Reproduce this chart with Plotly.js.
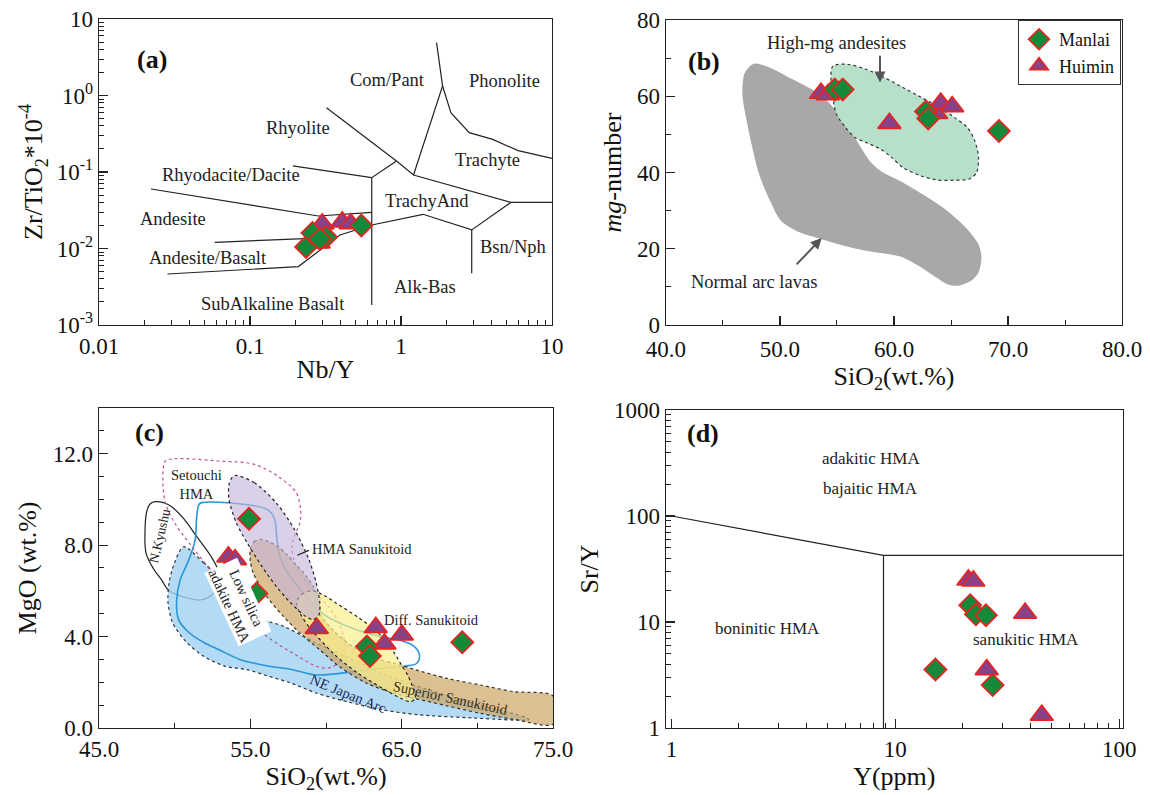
<!DOCTYPE html>
<html>
<head>
<meta charset="utf-8">
<script src="https://cdn.plot.ly/plotly-3.0.1.min.js"></script>
<style>html,body{margin:0;padding:0;background:#fff}#chart{width:1150px;height:795px}</style>
</head>
<body>
<div id="chart"></div>
<script>
// ---------------- DATA ----------------
// Panel (a): Nb/Y vs Zr/TiO2*10^-4
const aManlaiNbY = [0.235, 0.259, 0.319, 0.546, 0.29];
const aManlaiZr  = [0.0105, 0.0160, 0.0141, 0.0200, 0.0133];
const aHuiminNbY = [0.301, 0.408, 0.464, 0.269, 0.285];
const aHuiminZr  = [0.0210, 0.0222, 0.0212, 0.0126, 0.0118];
const aLineRhyCom   = [[0.321,0.693],[0.933,0.139]];
const aLineRhyDac   = [[0.192,0.120],[0.64,0.0843],[0.933,0.139]];
const aLineVert1    = [[0.64,0.0843],[0.64,0.00182]];
const aLineAndUp    = [[0.0221,0.060],[0.283,0.0266],[0.64,0.0297]];
const aLineAndBas   = [[0.0584,0.01205],[0.377,0.014]];
const aLineSubAlk   = [[0.0284,0.00464],[0.209,0.0058],[0.394,0.015],[0.64,0.0203],[1.40,0.028],[2.94,0.0175],[5.35,0.0401],[10,0.0401]];
const aLineBsn      = [[2.94,0.0175],[2.94,0.00473]];
const aLineTrAnd    = [[0.933,0.139],[1.21,0.0914],[5.35,0.0401]];
const aLinePhon     = [[1.21,0.0914],[1.885,1.33],[1.72,4.9]];
const aLineTrach    = [[1.885,1.33],[2.14,0.597],[2.83,0.327],[4.05,0.267],[5.97,0.19],[10,0.151]];
const aFieldNames = ['Com/Pant','Phonolite','Rhyolite','Trachyte','Rhyodacite/Dacite','TrachyAnd','Andesite','Bsn/Nph','Andesite/Basalt','Alk-Bas','SubAlkaline Basalt'];
const aFieldX     = [0.81, 4.86, 0.209, 3.73, 0.0748, 1.49, 0.0308, 5.5, 0.0527, 1.44, 0.143];
const aFieldY     = [1.6, 1.55, 0.38, 0.1436, 0.0914, 0.0418, 0.0243, 0.01035, 0.00743, 0.00317, 0.00186];

// Panel (b): SiO2 vs mg-number
const bManlaiSiO2 = [54.8, 55.5, 62.8, 63.0, 69.2];
const bManlaiMg   = [61.8, 61.8, 56.0, 54.2, 50.9];
const bHuiminSiO2 = [53.6, 54.2, 59.6, 63.7, 64.1, 65.1];
const bHuiminMg   = [60.8, 60.4, 52.9, 55.5, 58.2, 57.3];
const bNormalArc = [[47.83,68.6],[49.13,67.5],[51.07,64.5],[53.01,61.4],[54.30,58.3],[55.6,53.5],[56.73,48.3],[57.86,43.1],[58.83,40.4],[60.78,37.4],[62.72,33.9],[64.66,30.0],[66.28,25.6],[67.41,21.2],[67.67,17.7],[67.41,13.8],[66.76,11.6],[65.63,10.3],[64.66,10.7],[63.69,12.5],[62.39,15.1],[60.78,17.7],[59.48,18.6],[57.54,19.5],[55.6,20.8],[53.66,22.5],[51.72,24.3],[50.1,27.3],[49.13,32.6],[48.16,39.6],[47.51,47.4],[47.02,54.4],[46.7,60.5],[46.86,65.8],[47.35,67.9],[47.83,68.6]];
const bHighMg = [[54.63,67.9],[55.92,68.4],[57.54,67.1],[59.16,64.9],[60.78,62.3],[62.39,59.7],[64.01,57.0],[65.31,54.4],[66.44,51.8],[67.09,48.3],[67.41,43.9],[67.25,40.0],[66.6,38.3],[65.31,38.0],[63.85,38.0],[62.39,39.1],[60.78,41.3],[59.81,43.9],[58.83,46.1],[57.54,47.9],[56.57,49.2],[55.76,51.8],[54.95,55.3],[54.63,59.7],[54.47,64.0],[54.63,67.9]];
const bTexts  = ['High-mg andesites','Normal arc lavas'];
const bTextX  = [55.0, 47.7];
const bTextY  = [74.1, 11.3];
const bArrows = [[[58.77,71.0],[58.77,63.6]],[[51.33,15.5],[53.66,22.8]]];

// Panel (c): SiO2 vs MgO
const cManlaiSiO2 = [54.91, 55.4, 62.7, 62.9, 69.0];
const cManlaiMgO  = [9.15, 5.88, 3.57, 3.15, 3.75];
const cHuiminSiO2 = [53.55, 53.99, 59.39, 63.29, 63.86, 65.01];
const cHuiminMgO  = [7.49, 7.37, 4.36, 4.40, 3.68, 4.07];
const cNEJapan = [[50.59,7.93],[51.91,7.23],[52.87,6.64],[54.07,5.77],[55.27,4.89],[57.19,4.45],[59.35,3.72],[61.27,3.14],[63.67,2.41],[66.07,1.82],[69.67,1.09],[73.27,0.44],[73.4,0.36],[69.67,0.44],[66.07,0.58],[63.67,0.80],[61.27,1.17],[59.35,1.53],[57.67,1.97],[56.23,2.26],[54.79,2.55],[53.35,2.70],[51.91,3.14],[50.71,3.80],[49.87,4.60],[49.56,5.47],[49.63,6.35],[49.99,7.23],[50.59,7.93]];
const cNKyushu = [[48.70,9.90],[49.25,9.86],[49.80,9.68],[50.58,9.17],[51.46,8.37],[52.34,7.57],[52.89,6.84],[52.82,6.18],[52.45,5.82],[51.68,5.60],[50.57,5.74],[49.58,6.04],[49.14,6.47],[48.59,6.98],[48.11,7.64],[48.04,8.66],[48.15,9.46],[48.37,9.80],[48.70,9.90]];
const cSetouchi = [[49.39,11.68],[49.99,11.78],[52.87,11.68],[55.27,11.53],[56.95,10.95],[58.03,10.29],[58.32,9.56],[58.27,8.98],[57.91,8.39],[57.74,7.96],[58.03,7.08],[59.11,6.06],[60.31,5.18],[61.03,4.31],[61.22,3.43],[60.91,2.92],[60.19,2.63],[59.35,2.70],[58.15,3.14],[56.71,3.72],[55.27,4.45],[54.07,5.33],[53.11,6.20],[52.15,7.08],[50.95,8.10],[49.99,8.98],[49.39,9.85],[49.22,10.73],[49.27,11.46],[49.39,11.68]];
const cLowSilica = [[51.6,9.78],[51.8,9.86],[53.7,9.84],[55.9,9.62],[56.4,9.4],[56.65,9.0],[56.75,8.3],[56.95,7.5],[57.4,6.85],[58.2,6.15],[59.0,5.5],[60.0,4.9],[61.4,4.45],[62.7,4.15],[64.0,3.95],[65.0,3.82],[65.8,3.58],[66.17,3.2],[66.0,2.83],[65.3,2.71],[64.4,2.66],[63.6,2.6],[62.0,2.48],[60.5,2.36],[59.2,2.33],[57.8,2.55],[56.1,2.72],[54.3,3.0],[53.0,3.4],[51.9,3.75],[50.9,4.2],[50.25,4.75],[50.13,5.6],[50.36,6.47],[50.9,7.3],[51.35,8.22],[51.45,9.2],[51.6,9.78]];
const cSuperior = [[55.0,7.85],[55.25,8.15],[55.65,8.25],[56.2,8.15],[56.8,7.95],[57.4,7.6],[58.0,7.15],[58.5,6.8],[59.15,6.2],[59.5,5.6],[59.65,4.95],[60.5,4.25],[61.8,3.55],[63.3,3.05],[64.9,2.76],[65.8,2.57],[68.0,2.17],[70.2,1.88],[72.4,1.59],[75,1.40],[75,0.17],[72.4,0.38],[70.2,0.64],[68.0,0.97],[65.8,1.30],[64.5,1.52],[62.7,1.95],[60.9,2.68],[59.6,3.41],[58.3,4.14],[57.2,4.87],[56.1,5.74],[55.2,6.76],[55.0,7.3],[55.0,7.85]];
const cDiff = [[58.05,5.5],[58.4,5.85],[59.1,6.0],[60.0,5.75],[60.7,5.45],[62.1,4.85],[63.4,4.2],[64.3,3.5],[64.9,2.85],[65.4,2.3],[65.8,1.66],[65.9,1.3],[65.6,1.15],[65.0,1.28],[63.7,1.75],[62.1,2.4],[60.5,3.25],[58.9,4.4],[58.3,5.0],[58.05,5.5]];
const cHMASan = [[54.07,11.05],[55.27,10.73],[56.71,9.85],[57.91,8.69],[58.87,7.37],[59.35,6.35],[59.59,5.47],[59.54,4.96],[59.16,4.74],[58.63,4.89],[57.67,5.47],[56.71,6.20],[55.75,7.08],[54.79,8.10],[54.07,8.98],[53.59,10.0],[53.59,10.66],[53.83,10.99],[54.07,11.05]];
const cLeader = [[58.1,7.56],[58.87,7.77]];

// Panel (d): Y vs Sr/Y
const dManlaiY   = [21.6, 22.9, 25.4, 15.1, 27.2];
const dManlaiSrY = [14.4, 11.8, 11.6, 3.56, 2.54];
const dHuiminY   = [21.2, 22.3, 38.0, 25.6, 45.1];
const dHuiminSrY = [24.9, 24.4, 12.1, 3.56, 1.32];
const dLineTop  = [[1,100],[8.85,42.5],[104,42.5]];
const dLineVert = [[8.85,42.5],[8.85,1]];
const dTexts = ['adakitic HMA','bajaitic HMA','boninitic HMA','sanukitic HMA'];
const dTextX = [7.77, 7.77, 2.68, 38.3];
const dTextY = [345, 182, 8.64, 6.84];

// ---------------- STYLE ----------------
const FONT = 'Liberation Serif, Times New Roman, serif';
const INK = '#222';
const MANLAI = {symbol:'diamond', size:17, color:'#15893a', line:{color:'#e8231f', width:1.7}};
const HUIMIN = {symbol:'triangle-up', size:20, color:'#8a4187', line:{color:'#e8231f', width:1.7}};
const X = p => p.map(v => v[0]);
const Y = p => p.map(v => v[1]);
const L10 = v => Math.log10(v);

const traces = [];
function line(pts, xa, ya, extra) {
  traces.push(Object.assign({x:X(pts), y:Y(pts), xaxis:xa, yaxis:ya, mode:'lines', type:'scatter',
    line:{color:INK, width:1.2}, showlegend:false, hoverinfo:'skip'}, extra||{}));
}
function poly(pts, xa, ya, fill, lineObj) {
  traces.push({x:X(pts), y:Y(pts), xaxis:xa, yaxis:ya, mode:'lines', type:'scatter', fill:'toself',
    fillcolor:fill, line:Object.assign({shape:'spline', smoothing:0.8}, lineObj), showlegend:false, hoverinfo:'skip'});
}
function pts(x, y, xa, ya, marker, name, legend) {
  traces.push({x:x, y:y, xaxis:xa, yaxis:ya, mode:'markers', type:'scatter', marker:marker, name:name,
    showlegend:!!legend, legendrank: name==='Manlai'?1:2, hoverinfo:'x+y'});
}

// (a)
[aLineRhyCom,aLineRhyDac,aLineVert1,aLineAndUp,aLineAndBas,aLineSubAlk,aLineBsn,aLineTrAnd,aLinePhon,aLineTrach]
  .forEach(l => line(l,'x','y'));
pts(aHuiminNbY, aHuiminZr, 'x','y', HUIMIN, 'Huimin', false);
pts(aManlaiNbY, aManlaiZr, 'x','y', MANLAI, 'Manlai', false);

// (b)
poly(bNormalArc,'x2','y2','#a8a8a8',{width:0, color:'#a8a8a8'});
poly(bHighMg,'x2','y2','#b7e0cb',{width:1.2, color:'#333', dash:'dot'});
pts(bHuiminSiO2, bHuiminMg, 'x2','y2', HUIMIN, 'Huimin', true);
pts(bManlaiSiO2, bManlaiMg, 'x2','y2', MANLAI, 'Manlai', true);

// (c)
line(cNKyushu,'x3','y3',{line:{color:'#222', width:1.2, shape:'spline'}});
poly(cNEJapan,'x3','y3','rgba(160,210,243,0.8)',{width:1.2, color:'#333', dash:'dot'});
line(cLowSilica,'x3','y3',{line:{color:'#2b95d6', width:1.6, shape:'spline'}});
line(cSetouchi,'x3','y3',{line:{color:'#c2509c', width:1.2, dash:'dot', shape:'spline'}});
poly(cSuperior,'x3','y3','rgba(205,165,100,0.7)',{width:1.2, color:'#333', dash:'dot'});
poly(cDiff,'x3','y3','rgba(250,240,140,0.7)',{width:1.2, color:'#222', dash:'dot'});
poly(cHMASan,'x3','y3','rgba(195,180,220,0.62)',{width:1.2, color:'#222', dash:'dot'});
line(cLeader,'x3','y3');
pts(cHuiminSiO2, cHuiminMgO, 'x3','y3', HUIMIN, 'Huimin', false);
pts(cManlaiSiO2, cManlaiMgO, 'x3','y3', MANLAI, 'Manlai', false);

// (d)
line(dLineTop,'x4','y4');
line(dLineVert,'x4','y4');
pts(dHuiminY, dHuiminSrY, 'x4','y4', HUIMIN, 'Huimin', false);
pts(dManlaiY, dManlaiSrY, 'x4','y4', MANLAI, 'Manlai', false);

// ---------------- AXES ----------------
function minorLog(d0, d1) { const v=[]; for (let d=d0; d<d1; d++) for (let k=2;k<=9;k++) v.push(k*Math.pow(10,d)); return v; }
function ax(o) {
  return Object.assign({showline:true, mirror:true, linecolor:'#222', linewidth:1.3, ticks:'inside', ticklen:9,
    tickwidth:1.2, tickcolor:'#222', showgrid:false, zeroline:false, fixedrange:true,
    tickfont:{family:FONT, size:23, color:'#111'}}, o);
}
const minorStyle = {ticks:'inside', ticklen:5, tickwidth:1, tickcolor:'#222', showgrid:false};
const titleFont = {family:FONT, size:26, color:'#111'};

const layout = {
  width:1150, height:795, margin:{l:0,r:0,t:0,b:0}, paper_bgcolor:'#fff', plot_bgcolor:'#fff',
  font:{family:FONT, color:INK}, showlegend:true,
  legend:{x:0.9748, y:0.9748, xanchor:'right', yanchor:'top', bgcolor:'#fff', bordercolor:'#333', borderwidth:1,
    font:{family:FONT, size:18, color:'#111'}, itemwidth:30, tracegroupgap:0},
  xaxis: ax({type:'log', range:[-2,1], domain:[0.0861,0.48], anchor:'y', tickmode:'array',
    tickvals:[0.01,0.1,1,10], ticktext:['0.01','0.1','1','10'], minor:Object.assign({tickmode:'array', tickvals:minorLog(-2,1)}, minorStyle),
    title:{text:'Nb/Y', font:titleFont, standoff:2}}),
  yaxis: ax({type:'log', range:[-3,1], domain:[0.5912,0.9761], anchor:'x', tickmode:'array',
    tickvals:[0.001,0.01,0.1,1,10], ticktext:['10<sup>-3</sup>','10<sup>-2</sup>','10<sup>-1</sup>','10<sup>0</sup>','10'],
    minor:Object.assign({tickmode:'array', tickvals:minorLog(-3,1)}, minorStyle),
    title:{text:'Zr/TiO<sub>2</sub>*10<sup>-4</sup>', font:titleFont, standoff:6}}),
  xaxis2: ax({range:[40,80], domain:[0.5791,0.9757], anchor:'y2', tickmode:'array', ticklabelstandoff:3,
    tickvals:[40,50,60,70,80], ticktext:['40.0','50.0','60.0','70.0','80.0'],
    minor:Object.assign({tickmode:'array', tickvals:[45,55,65,75]}, minorStyle),
    title:{text:'SiO<sub>2</sub>(wt.%)', font:titleFont, standoff:0}}),
  yaxis2: ax({range:[0,80], domain:[0.5912,0.9748], anchor:'x2', tickmode:'array',
    tickvals:[0,20,40,60,80], ticktext:['0','20','40','60','80'],
    minor:Object.assign({tickmode:'array', tickvals:[10,30,50,70]}, minorStyle),
    title:{text:'<i>mg</i>-number', font:titleFont, standoff:8}}),
  xaxis3: ax({range:[45,75], domain:[0.0861,0.4809], anchor:'y3', tickmode:'array',
    tickvals:[45,55,65,75], ticktext:['45.0','55.0','65.0','75.0'],
    minor:Object.assign({tickmode:'array', tickvals:[50,60,70]}, minorStyle),
    title:{text:'SiO<sub>2</sub>(wt.%)', font:titleFont, standoff:2}}),
  yaxis3: ax({range:[0,14], domain:[0.0843,0.4868], anchor:'x3', tickmode:'array',
    tickvals:[0,4,8,12], ticktext:['0.0','4.0','8.0','12.0'],
    minor:Object.assign({tickmode:'array', tickvals:[1,2,3,5,6,7,9,10,11,13]}, minorStyle),
    title:{text:'MgO (wt.%)', font:titleFont, standoff:8}}),
  xaxis4: ax({type:'log', range:[-0.025,2.016], domain:[0.5791,0.9763], anchor:'y4', tickmode:'array',
    tickvals:[1,10,100], ticktext:['1','10','100'], minor:Object.assign({tickmode:'array', tickvals:minorLog(0,2)}, minorStyle),
    title:{text:'Y(ppm)', font:titleFont, standoff:2}}),
  yaxis4: ax({type:'log', range:[0,3], domain:[0.0843,0.4843], anchor:'x4', tickmode:'array',
    tickvals:[1,10,100,1000], ticktext:['1','10','100','1000'], minor:Object.assign({tickmode:'array', tickvals:minorLog(0,3)}, minorStyle),
    title:{text:'Sr/Y', font:titleFont, standoff:8}}),
  annotations: []
};

const A = layout.annotations;
const tf = (s, c) => ({family:FONT, size:s, color:c||INK});
// panel letters
[['(a)',0.117,0.946],['(b)',0.612,0.944],['(c)',0.116,0.456],['(d)',0.611,0.455]].forEach(p =>
  A.push({text:'<b>'+p[0]+'</b>', x:p[1], y:p[2], xref:'paper', yref:'paper', showarrow:false, font:tf(26,'#111')}));
// (a) fields
aFieldNames.forEach((t,i) => A.push({text:t, x:L10(aFieldX[i]), y:L10(aFieldY[i]), xref:'x', yref:'y', showarrow:false, font:tf(18.5)}));
// (b)
bTexts.forEach((t,i) => A.push({text:t, x:bTextX[i], y:bTextY[i], xref:'x2', yref:'y2', showarrow:false, font:tf(18.5)}));
bArrows.forEach(a => A.push({text:'', x:a[1][0], y:a[1][1], ax:a[0][0], ay:a[0][1], xref:'x2', yref:'y2', axref:'x2', ayref:'y2',
  showarrow:true, arrowhead:2, arrowsize:1.1, arrowwidth:2, arrowcolor:'#555'}));
// (c)
A.push({text:'Setouchi<br>HMA', x:51.43, y:10.66, xref:'x3', yref:'y3', showarrow:false, font:tf(14.5,'#222')});
A.push({text:'N.Kyushu', x:48.98, y:8.39, xref:'x3', yref:'y3', showarrow:false, textangle:-77, font:tf(13.5,'#222')});
A.push({text:'Low silica<br>adakite HMA', x:54.2, y:5.5, xref:'x3', yref:'y3', showarrow:false, textangle:65, bgcolor:'#fff', borderpad:0, font:tf(14.5,'#222')});
A.push({text:'HMA Sanukitoid', x:58.95, y:7.81, xref:'x3', yref:'y3', xanchor:'left', showarrow:false, font:tf(14.5,'#222')});
A.push({text:'Diff. Sanukitoid', x:66.98, y:4.74, xref:'x3', yref:'y3', showarrow:false, font:tf(14.5,'#222')});
A.push({text:'NE Japan Arc', x:61.5, y:1.5, xref:'x3', yref:'y3', showarrow:false, textangle:22, font:tf(14.5,'#1e2a55')});
A.push({text:'Superior Sanukitoid', x:68.24, y:1.3, xref:'x3', yref:'y3', showarrow:false, textangle:12, font:tf(14.5,'#3a3020')});
// (d)
dTexts.forEach((t,i) => A.push({text:t, x:L10(dTextX[i]), y:L10(dTextY[i]), xref:'x4', yref:'y4', showarrow:false, font:tf(17)}));

Plotly.newPlot('chart', traces, layout, {staticPlot:true, displayModeBar:false});
</script>
</body>
</html>
